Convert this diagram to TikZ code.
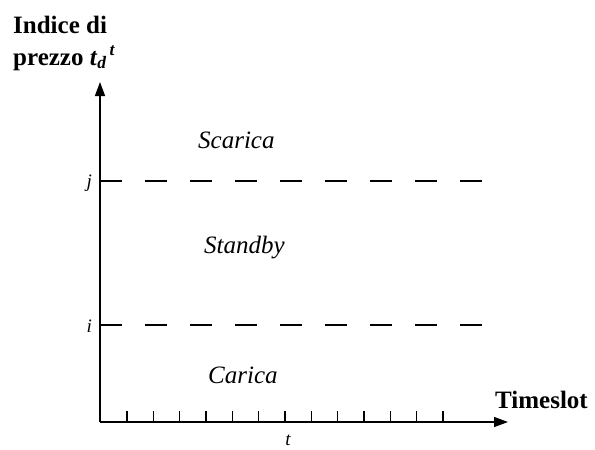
\documentclass[tikz,border=0pt]{standalone}
\usepackage{fontspec}
\setmainfont{Liberation Serif}
\usetikzlibrary{arrows.meta}

\tikzset{
  axis/.style={line width=1.5pt,-{Triangle[length=14pt,width=10pt]}},
  level/.style={line width=1.5pt,dash pattern=on 22pt off 23pt},
  boldlab/.style={font=\fontsize{25}{27}\selectfont\bfseries,inner sep=0pt},
  statelab/.style={font=\fontsize{25}{27}\selectfont\itshape,inner sep=0pt},
  smalllab/.style={font=\fontsize{19}{21}\selectfont\itshape,inner sep=0pt}
}

\begin{document}
\begin{tikzpicture}[x=1pt,y=-1pt]
  \useasboundingbox (0,0) rectangle (595,450);
  % axes
  \coordinate (O) at (100,422);
  \coordinate (ytop) at (100,82);
  \coordinate (xend) at (508,422);
  \draw[axis] (O) -- (ytop);
  \draw[axis] (O) -- (xend);
  \foreach \k in {0,...,12}
    \draw[line width=1.2pt] (127+26.33*\k,422) -- ++(0,-11);
  % price levels
  \coordinate (j0) at (100,181);
  \coordinate (j1) at (484,181);
  \coordinate (i0) at (100,325);
  \coordinate (i1) at (484,325);
  \draw[level] (j0) -- (j1);
  \draw[level] (i0) -- (i1);
  % labels
  \node[boldlab,anchor=base west] (ylab1) at (13,33) {Indice di};
  \node[boldlab,anchor=base west] (ylab2) at (13,65) {prezzo \textit{t}\textsubscript{\textit{d}}\textsuperscript{\,\textit{t}}};
  \node[boldlab,anchor=base west] (xlab) at (495,408) {Timeslot};
  \node[smalllab,anchor=base east] (jlab) at (92,187) {j};
  \node[smalllab,anchor=base east] (ilab) at (92,332) {i};
  \node[smalllab,anchor=base] (tlab) at (288,445) {t};
  \node[statelab,anchor=base west] (scarica) at (198,148) {Scarica};
  \node[statelab,anchor=base west] (standby) at (204,253) {Standby};
  \node[statelab,anchor=base west] (carica) at (208,383) {Carica};
\end{tikzpicture}
\end{document}
